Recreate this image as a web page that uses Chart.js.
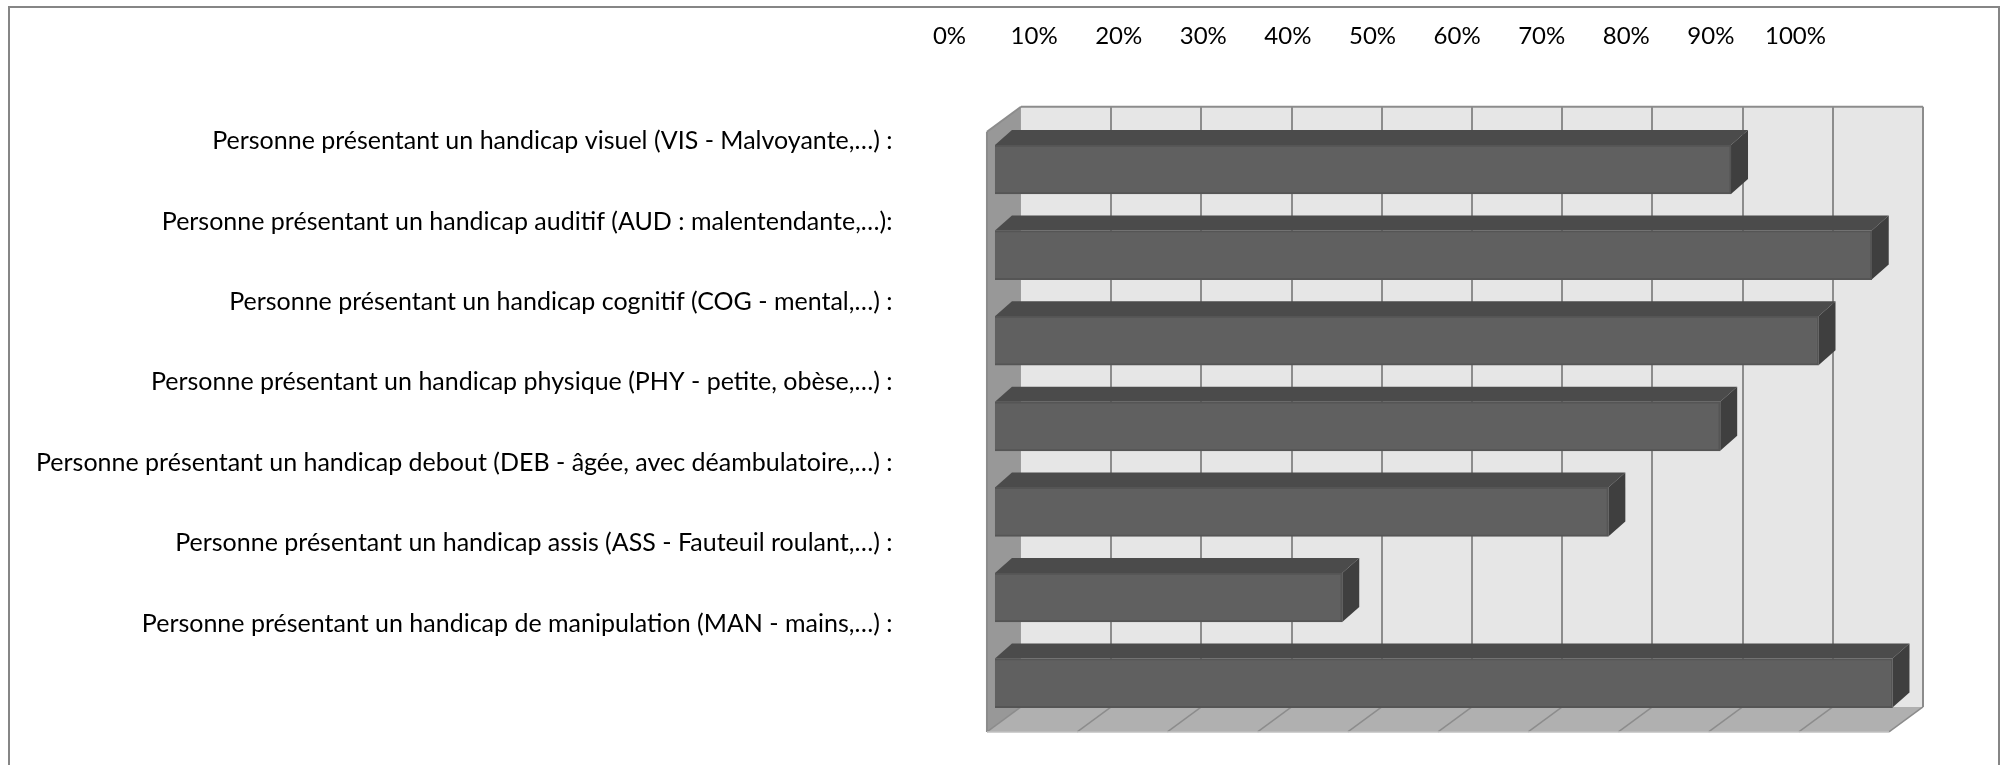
<!DOCTYPE html>
<html>
<head>
<meta charset="utf-8">
<style>
html,body{margin:0;padding:0;background:#fff;overflow:hidden;}
canvas{display:block;}
</style>
<script src="https://cdn.jsdelivr.net/npm/chart.js@4"></script>
</head>
<body>
<canvas id="myChart" width="2002" height="765"></canvas>
<script>
var categories = [
	"Personne présentant un handicap visuel (VIS - Malvoyante,…) :",
	"Personne présentant un handicap auditif (AUD : malentendante,…):",
	"Personne présentant un handicap cognitif (COG - mental,…) :",
	"Personne présentant un handicap physique (PHY - petite, obèse,…) :",
	"Personne présentant un handicap debout (DEB - âgée, avec déambulatoire,…) :",
	"Personne présentant un handicap assis (ASS - Fauteuil roulant,…) :",
	"Personne présentant un handicap de manipulation (MAN - mains,…) :"
];
var values = [81.6, 97.2, 91.3, 80.4, 68, 38.5, 99.5];
var tickValues = [0, 10, 20, 30, 40, 50, 60, 70, 80, 90, 100];
var labelIndexes = [0, 1, 2, 3, 4, 5, 6];

var fontName = "Lato, Carlito, sans-serif";

// fake 3d depth, in pixels
var barDepthX = 17, barDepthY = 15;
var backX = 26, frontX = -8;

var box3d = {
	id: "box3d",
	beforeDatasetsDraw: function(chart)
	{
		var ctx = chart.ctx;
		var x = chart.scales.x;
		var area = chart.chartArea;
		var x0 = x.getPixelForValue(0), x100 = x.getPixelForValue(100);
		var wallTop = area.top - 20, wallBottom = area.bottom - 19;
		var frontTop = area.top + 5, frontBottom = area.bottom + 6;

		// outer frame, goes past the bottom of the picture
		ctx.strokeStyle = "#868686";
		ctx.lineWidth = 2;
		ctx.strokeRect(9, 7, 1990, 800);

		function poly(points, color)
		{
			ctx.fillStyle = color;
			ctx.beginPath();
			ctx.moveTo(points[0][0], points[0][1]);
			for(let i = 1; i < points.length; i++) ctx.lineTo(points[i][0], points[i][1]);
			ctx.closePath();
			ctx.fill();
		}
		function line(x1, y1, x2, y2, color, w)
		{
			ctx.strokeStyle = color;
			ctx.lineWidth = w;
			ctx.beginPath();
			ctx.moveTo(x1, y1);
			ctx.lineTo(x2, y2);
			ctx.stroke();
		}

		// back wall
		poly([[x0+backX, wallTop], [x100+backX, wallTop], [x100+backX, wallBottom], [x0+backX, wallBottom]], "#e6e6e6");
		// left wall
		poly([[x0+frontX, frontTop], [x0+backX, wallTop], [x0+backX, wallBottom], [x0+frontX, frontBottom]], "#989898");
		// floor
		poly([[x0+frontX, frontBottom], [x0+backX, wallBottom], [x100+backX, wallBottom], [x100+frontX, frontBottom]], "#b0b0b0");

		for(let i = 0; i < tickValues.length; i++)
		{
			let p = x.getPixelForValue(tickValues[i]);
			line(p+frontX, frontBottom, p+backX, wallBottom, "#8c8c8c", 1.5);
			if(i > 0)
			{
				let gx = Math.round(p+backX);
				line(gx, wallTop, gx, wallBottom, "#8c8c8c", 2);
			}
		}
		line(x0+frontX, frontTop, x0+backX, wallTop, "#8c8c8c", 2);
		line(x0+backX, wallTop, x100+backX, wallTop, "#8c8c8c", 2);
		line(x0+frontX, frontTop, x0+frontX, frontBottom, "#8c8c8c", 2);
		line(x0+frontX, frontBottom, x100+frontX, frontBottom, "#c0c0c0", 1.5);

		// top and end faces of the bars
		var bars = chart.getDatasetMeta(0).data;
		for(let i = 0; i < bars.length; i++)
		{
			let b = bars[i];
			let top = b.y - b.height/2, bottom = b.y + b.height/2;
			poly([[b.base, top], [b.base+barDepthX, top-barDepthY], [b.x+barDepthX, top-barDepthY], [b.x, top]], "#4b4b4b");
			poly([[b.x, top], [b.x+barDepthX, top-barDepthY], [b.x+barDepthX, bottom-barDepthY], [b.x, bottom]], "#3f3f3f");
		}
	}
};

window.onload = function()
{
	var ctx = document.getElementById("myChart").getContext("2d");
	new Chart(ctx, {
		type: "bar",
		plugins: [box3d],
		data: {
			labels: categories,
			datasets: [{
				data: values,
				backgroundColor: "#606060",
				borderColor: "#555555",
				borderWidth: 2,
				barThickness: 49
			}]
		},
		options: {
			indexAxis: "y",
			responsive: false,
			animation: false,
			layout: { padding: { top: 0, left: 0, right: 72, bottom: 39.1 } },
			plugins: { legend: { display: false }, tooltip: { enabled: false } },
			scales: {
				// scale of the bars
				x: { type: "linear", display: false, min: -5.04, max: 103.66 },
				y: { type: "category", display: false },
				// the tick labels of the original do not line up with the grid
				x2: {
					type: "linear",
					position: "top",
					min: 0,
					max: 115.9,
					grid: { display: false, drawTicks: false },
					border: { display: false },
					afterBuildTicks: function(scale) { scale.ticks = tickValues.map(function(v){ return { value: v }; }); },
					afterFit: function(scale) { scale.height = 126.7; },
					ticks: {
						color: "#000",
						padding: 76,
						autoSkip: false,
						maxRotation: 0,
						font: { family: fontName, size: 24 },
						callback: function(v) { return v + "%"; }
					}
				},
				y2: {
					type: "linear",
					position: "left",
					reverse: true,
					offset: false,
					min: -0.18,
					max: 7.273,
					grid: { display: false, drawTicks: false, offset: false },
					border: { display: false },
					afterBuildTicks: function(scale) { scale.ticks = labelIndexes.map(function(v){ return { value: v }; }); },
					afterFit: function(scale) {
						scale.width = 949.5;
						// tick padding would otherwise eat the bottom of the plot
						scale.paddingTop = 0;
						scale.paddingBottom = 0;
					},
					ticks: {
						color: "#000",
						padding: 57,
						autoSkip: false,
						font: { family: fontName, size: 25 },
						callback: function(v) { return categories[v]; }
					}
				}
			}
		}
	});
}
</script>
</body>
</html>
